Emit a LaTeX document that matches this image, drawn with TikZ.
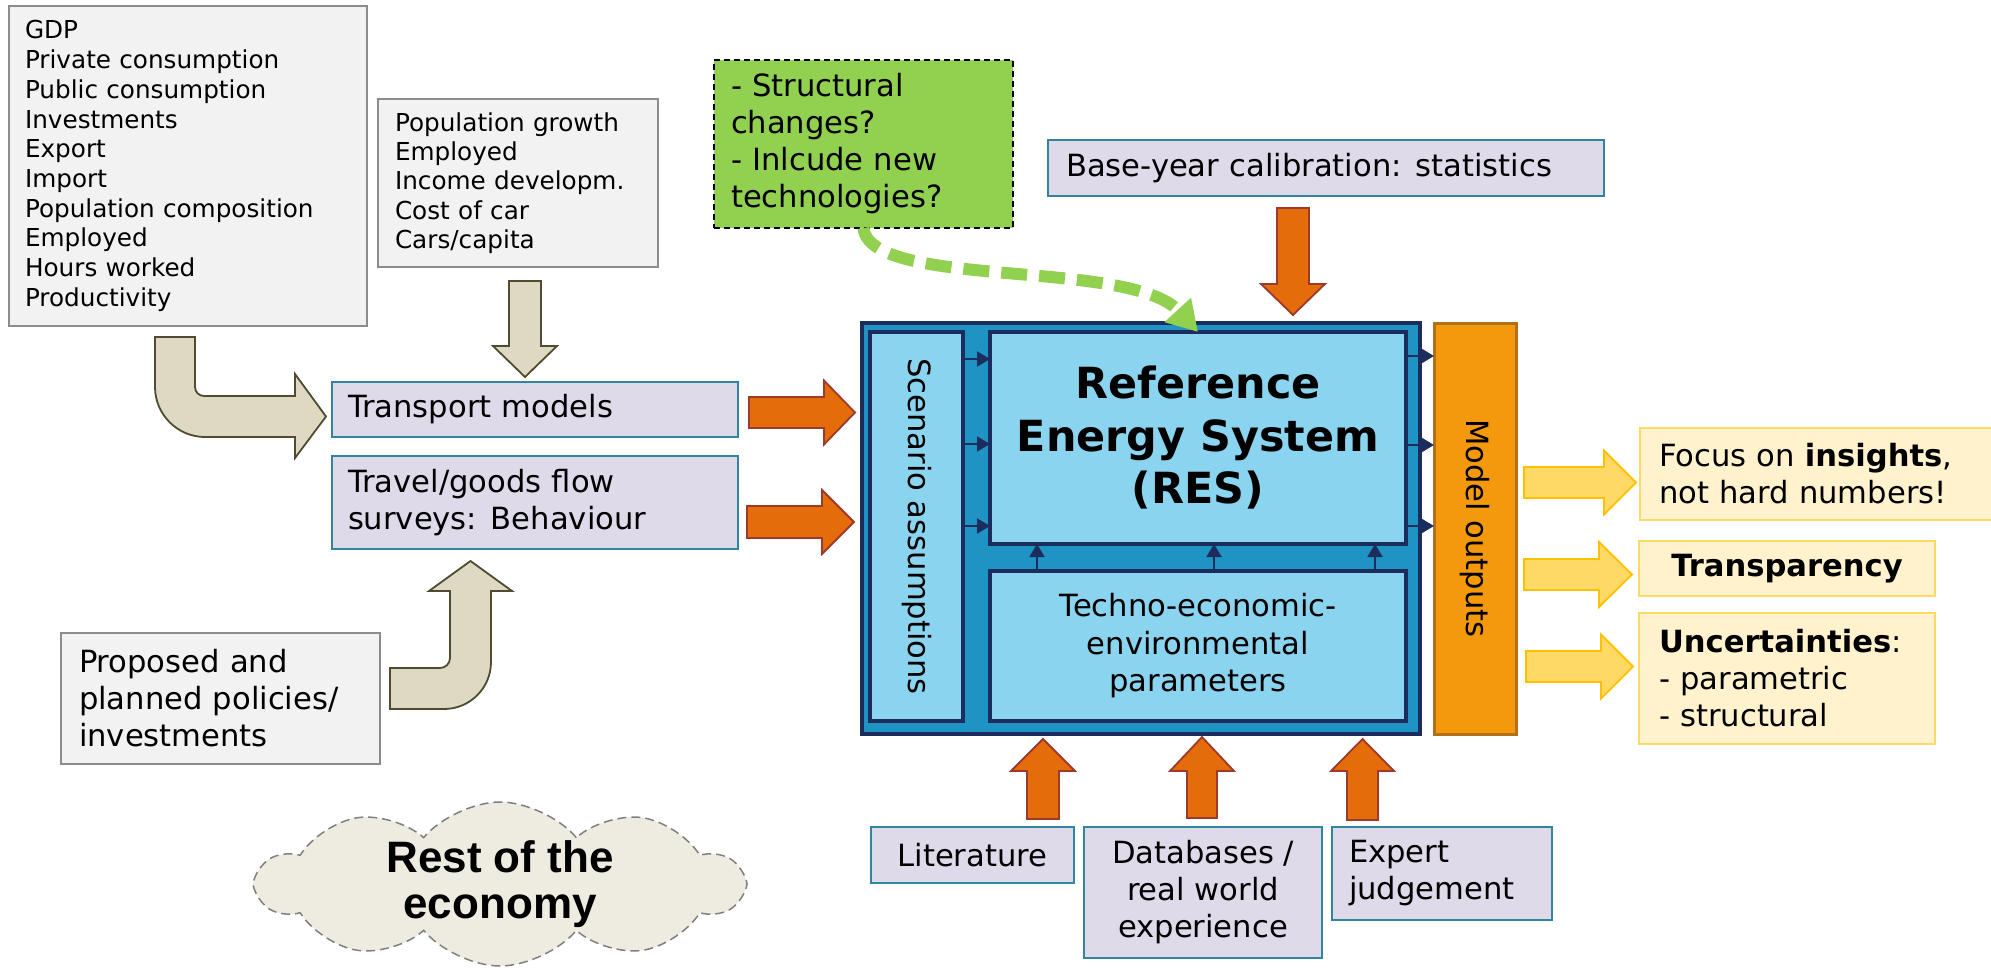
\documentclass[tikz,border=0pt]{standalone}
\usepackage{fontspec}
\setmainfont{DejaVu Sans}
\newfontfamily\arialf{Liberation Sans}
\usepackage{graphicx}
\usetikzlibrary{shapes.symbols,arrows.meta}
\definecolor{grayf}{HTML}{F2F2F2}
\definecolor{grayd}{HTML}{8C8C8C}
\definecolor{lavf}{HTML}{DFDAE9}
\definecolor{lavd}{HTML}{31859C}
\definecolor{beigef}{HTML}{DDD9C3}
\definecolor{beiged}{HTML}{4F4A30}
\definecolor{orangef}{HTML}{E46C0A}
\definecolor{oranged}{HTML}{9C3A2C}
\definecolor{greenf}{HTML}{92D050}
\definecolor{mainf}{HTML}{1F93C3}
\definecolor{innerf}{HTML}{8AD4EF}
\definecolor{navy}{HTML}{1C2C5C}
\definecolor{modelf}{HTML}{F5990C}
\definecolor{modeld}{HTML}{B3701A}
\definecolor{yarrf}{HTML}{FFD966}
\definecolor{yarrd}{HTML}{FFC000}
\definecolor{yboxf}{HTML}{FFF2CC}
\definecolor{yboxd}{HTML}{FFD966}
\definecolor{cloudf}{HTML}{EEECE1}
\definecolor{cloudd}{HTML}{7F7F7F}
\newcommand\myharrow[7]{\draw[#1] (#2,#5-#6) -- (#3,#5-#6) -- (#3,#5-#7) -- (#4,#5) -- (#3,#5+#7) -- (#3,#5+#6) -- (#2,#5+#6) -- cycle;}
\newcommand\myvarrow[7]{\draw[#1] (#2-#6,#3) -- (#2-#6,#4) -- (#2-#7,#4) -- (#2,#5) -- (#2+#7,#4) -- (#2+#6,#4) -- (#2+#6,#3) -- cycle;}
\tikzset{
  every node/.style={inner sep=0pt, outer sep=0pt},
  fsmall/.style={font=\fontsize{24.7}{29.7}\selectfont},
  fthirty/.style={font=\fontsize{30.6}{37}\selectfont},
  graybox/.style={draw=grayd, fill=grayf, line width=2pt, align=left},
  lavbox/.style={draw=lavd, fill=lavf, line width=2.5pt, fthirty},
  ybox/.style={draw=yboxd, fill=yboxf, line width=2pt, fthirty},
  innerbox/.style={draw=navy, fill=innerf, line width=4pt},
  beigearr/.style={draw=beiged, fill=beigef, line width=1.8pt, line join=miter},
  orangearr/.style={draw=oranged, fill=orangef, line width=1.8pt},
  yarr/.style={draw=yarrd, fill=yarrf, line width=1.8pt},
  navyarr/.style={draw=navy, line width=2pt, -{Triangle[length=13pt,width=15pt]}},
  greencurve/.style={draw=greenf, line width=12pt, dash pattern=on 26pt off 12pt, -{Triangle[length=30pt,width=34pt]}}
}
\begin{document}
\begin{tikzpicture}[x=1pt,y=-1pt]
\useasboundingbox (0,0) rectangle (1991,968);
\clip (0,0) rectangle (1991,968);

% left input boxes
\node[graybox, fsmall, inner xsep=16pt, text width=326pt, minimum height=320pt] (gdp) at (188,166)
  {GDP\\Private consumption\\Public consumption\\Investments\\Export\\Import\\Population composition\\Employed\\Hours worked\\Productivity};
\node[graybox, font=\fontsize{24.7}{29.3}\selectfont, inner xsep=17pt, text width=246pt, minimum height=168pt] (pop) at (518,183)
  {Population growth\\Employed\\Income developm.\\Cost of car\\Cars/capita};
\node[lavbox, align=left, inner xsep=16pt, text width=374pt, minimum height=55pt] (transport) at (535,409.5) {Transport models};
\node[lavbox, align=left, inner xsep=16pt, text width=374pt, minimum height=93pt] (travel) at (535,502.5) {Travel/goods flow\\surveys:\hspace{0.45em}Behaviour};
\node[graybox, fthirty, inner xsep=18pt, text width=283pt, minimum height=131pt] (prop) at (220.5,698.5) {Proposed and\\planned policies/\\investments};

% top boxes
\node[draw=black, fill=greenf, line width=1.5pt, dash pattern=on 6pt off 4pt, fthirty, align=left, inner xsep=17pt, text width=265pt, minimum height=168pt] (green) at (863.5,144)
  {- Structural\\changes?\\- Inlcude new\\technologies?};
\node[lavbox, align=left, inner xsep=18pt, text width=520pt, minimum height=56pt] (base) at (1326,168) {Base-year calibration:\hspace{0.45em}statistics};

% main system
\node[draw=navy, fill=mainf, line width=4pt, minimum width=558pt, minimum height=411pt] (main) at (1141,528.5) {};
\node[innerbox, fthirty, minimum width=93pt, minimum height=389pt] (scen) at (916.5,526.5) {\rotatebox{-90}{Scenario assumptions}};
\node[innerbox, font=\bfseries\fontsize{42.9}{52.5}\selectfont, align=center, minimum width=416pt, minimum height=212pt] (res) at (1198,438) {Reference\\Energy System\\(RES)};
\node[innerbox, font=\fontsize{30.6}{37.5}\selectfont, align=center, minimum width=416pt, minimum height=150pt] (techno) at (1198,646) {Techno-economic-\\environmental\\parameters};
\node[draw=modeld, fill=modelf, line width=3pt, fthirty, minimum width=82pt, minimum height=411pt] (model) at (1475,528.5) {\rotatebox{-90}{Model outputs}};

% bottom boxes
\node[lavbox, minimum width=203pt, minimum height=56pt] (lit) at (972.5,855) {Literature};
\node[lavbox, align=center, minimum width=238pt, minimum height=131pt] (db) at (1203,892.5) {Databases /\\real world\\experience};
\node[lavbox, align=left, inner xsep=17pt, text width=186pt, minimum height=93pt] (expert) at (1442,873.5) {Expert\\judgement};

% right boxes
\node[ybox, align=left, inner xsep=19pt, text width=332pt, minimum height=92pt] (focus) at (1825,474) {Focus on \textbf{insights},\\not hard numbers!};
\node[ybox, font=\bfseries\fontsize{30.6}{37}\selectfont, minimum width=296pt, minimum height=55pt] (transp) at (1787,568.5) {Transparency};
\node[ybox, align=left, inner xsep=20pt, text width=256pt, minimum height=131pt] (uncert) at (1787,678.5) {\textbf{Uncertainties}:\\- parametric\\- structural};

% cloud
\node[cloud, cloud puffs=10, cloud puff arc=100, cloud ignores aspect, draw=cloudd, fill=cloudf, line width=1.5pt, dash pattern=on 9pt off 5pt,
  minimum width=484pt, minimum height=164pt, font=\arialf\bfseries\fontsize{44}{46}\selectfont, align=center] (cloud) at (500,884) {Rest of the\\economy};

% beige arrows
\draw[beigearr] (155,337) -- (195,337) -- (195,387) .. controls (195,392) and (199,396) .. (204,396) -- (295,396) -- (295,374) -- (326,416.5) -- (295,458) -- (295,437) -- (205,437) .. controls (177.5,437) and (155,414.5) .. (155,387) -- cycle;
\myvarrow{beigearr}{525}{281}{346}{377}{16}{32}
\draw[beigearr] (390,668) -- (440,668) .. controls (445.5,668) and (450,663.5) .. (450,658) -- (450,591) -- (429,591) -- (470.5,561) -- (512,591) -- (491,591) -- (491,662) .. controls (491,688) and (470,709) .. (444,709) -- (390,709) -- cycle;

% orange arrows
\myharrow{orangearr}{749}{824}{855}{412.5}{15.5}{32}
\myharrow{orangearr}{747}{822}{854}{522}{16}{32}
\myvarrow{orangearr}{1293}{208}{284}{315}{16}{32}
\myvarrow{orangearr}{1043}{819}{771}{739}{16}{32}
\myvarrow{orangearr}{1202}{818}{771}{737}{15}{32}
\myvarrow{orangearr}{1362.5}{820}{771}{739}{15.5}{31.5}

% yellow arrows
\myharrow{yarr}{1524}{1604}{1636}{482.5}{15.5}{32}
\myharrow{yarr}{1524}{1599}{1632}{574.5}{15.5}{32.5}
\myharrow{yarr}{1526}{1601}{1633}{666.5}{15.5}{32}

% internal navy arrows
\foreach \yy in {359,444,526} \draw[navyarr] (scen.east |- 0,\yy) -- (res.west |- 0,\yy);
\foreach \yy in {356,445,526} \draw[navyarr] (res.east |- 0,\yy) -- (model.west |- 0,\yy);
\foreach \xx in {1037,1214,1375} \draw[navyarr] (techno.north -| \xx,0) -- (res.south -| \xx,0);

% green dashed curve
\coordinate (gtip) at (1198,332);
\draw[greencurve] (green.south) .. controls (870,290) and (1130,258) .. (gtip);
\end{tikzpicture}
\end{document}
